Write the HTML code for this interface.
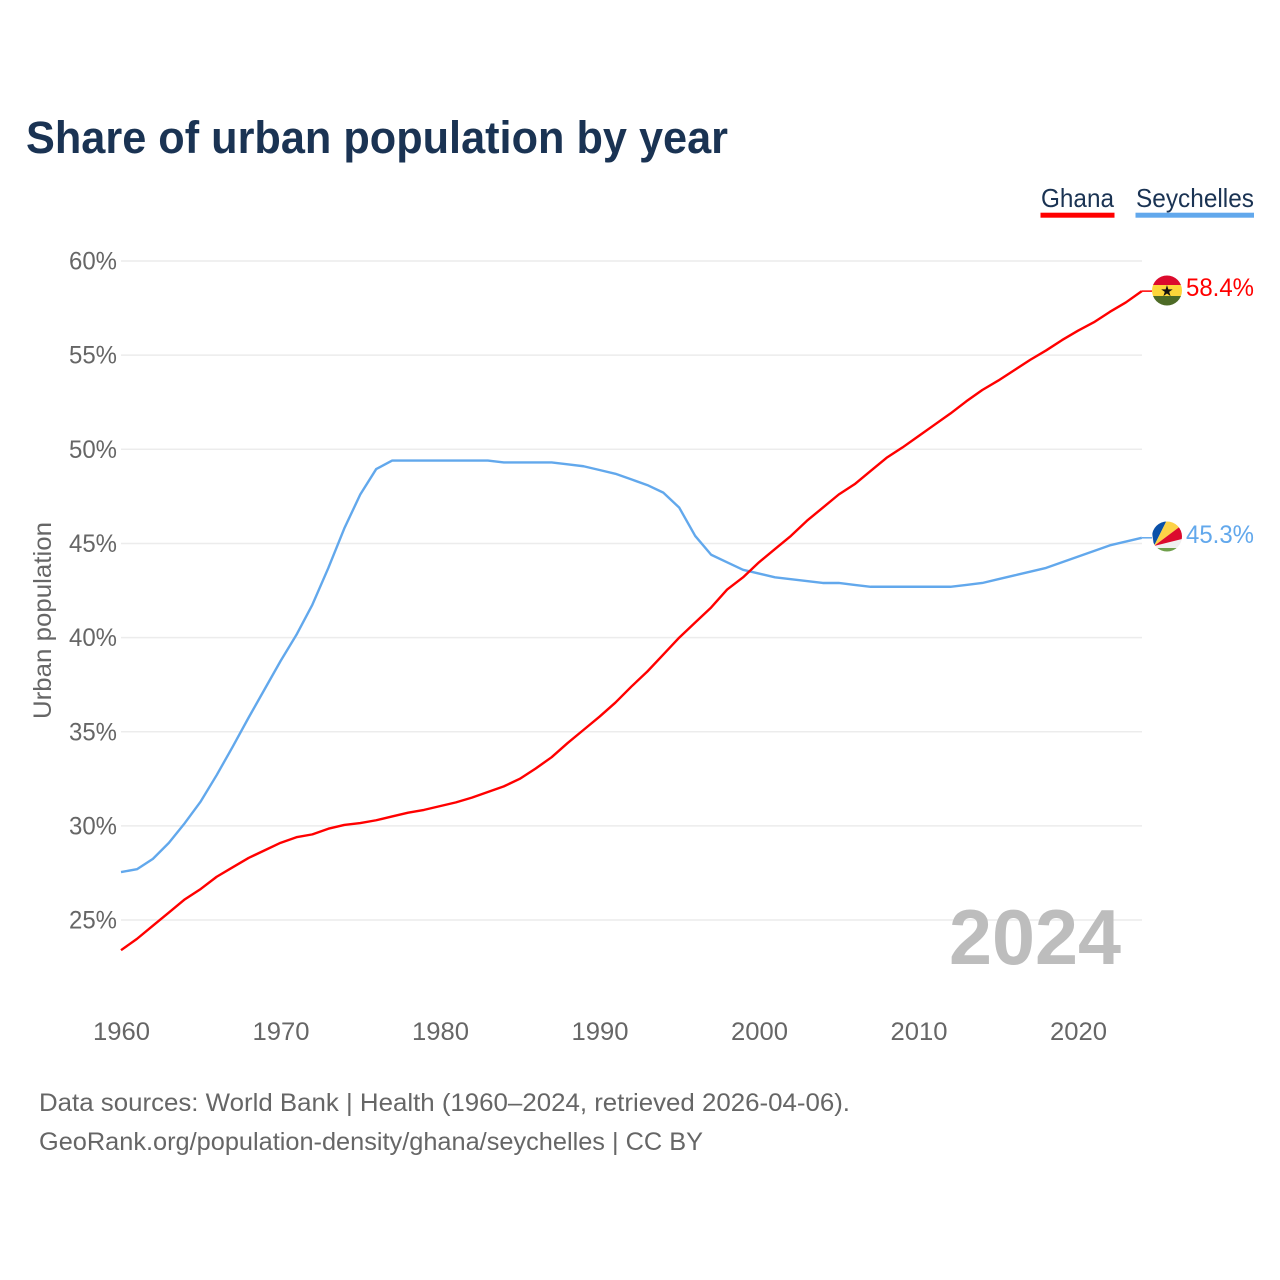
<!DOCTYPE html>
<html lang="en">
<head>
<meta charset="utf-8">
<title>Share of urban population by year</title>
<style>
html,body{margin:0;padding:0;background:#fff;}
svg{display:block;font-family:"Liberation Sans",sans-serif;}
</style>
</head>
<body>
<svg id="chart" width="1280" height="1280" viewBox="0 0 1280 1280" xmlns="http://www.w3.org/2000/svg">
  <defs>
    <clipPath id="clip-ghana"><circle cx="1167" cy="290.5" r="15"/></clipPath>
    <clipPath id="clip-sey"><circle cx="1167" cy="536.5" r="15"/></clipPath>
  </defs>
  <rect x="0" y="0" width="1280" height="1280" fill="#fff"/>
  <text x="26" y="153" font-size="45" font-weight="700" fill="#1a3353" textLength="702" lengthAdjust="spacingAndGlyphs">Share of urban population by year</text>

  <g>
    <g>
      <text x="1041" y="207" font-size="26" fill="#1a3353" textLength="73" lengthAdjust="spacingAndGlyphs">Ghana</text>
      <rect x="1040.5" y="212.7" width="74" height="5" fill="#ff0000"/>
    </g>
    <g>
      <text x="1136" y="207" font-size="26" fill="#1a3353" textLength="118" lengthAdjust="spacingAndGlyphs">Seychelles</text>
      <rect x="1135.5" y="212.7" width="118.5" height="5" fill="#62a8ec"/>
    </g>
  </g>

  <g id="grid"></g>
  <g id="yticks"></g>
  <g id="xticks"></g>
  <text x="0" y="0" transform="translate(51,620.5) rotate(-90)" text-anchor="middle" font-size="25" fill="#666" textLength="197" lengthAdjust="spacingAndGlyphs">Urban population</text>

  <text x="949" y="964" font-size="78" font-weight="700" fill="#bdbdbd" textLength="172" lengthAdjust="spacingAndGlyphs">2024</text>

  <g id="series"></g>

  <g clip-path="url(#clip-ghana)">
    <rect x="1150" y="274" width="34" height="11" fill="#dc0a2d"/>
    <rect x="1150" y="285" width="34" height="11" fill="#fcd63a"/>
    <rect x="1150" y="296" width="34" height="11" fill="#4d6b26"/>
    <text x="1167" y="296" text-anchor="middle" font-size="15" fill="#111" font-family="'DejaVu Sans',sans-serif">★</text>
  </g>
  <g clip-path="url(#clip-sey)">
    <rect x="1150" y="519" width="34" height="35" fill="#f0f0f0"/>
    <polygon points="1154,546 1150,518 1168,518" fill="#0a50a8"/>
    <polygon points="1154,546 1168,518 1186,518 1186,522" fill="#fdd247"/>
    <polygon points="1154,546 1186,522 1186,538" fill="#dc0a2d"/>
    <rect x="1150" y="548" width="34" height="6" fill="#6f9f4b"/>
  </g>
  <text id="end-ghana" x="1186" y="296" font-size="25" fill="#ff0000" textLength="68" lengthAdjust="spacingAndGlyphs"></text>
  <text id="end-sey" x="1186" y="543" font-size="25" fill="#62a8ec" textLength="68" lengthAdjust="spacingAndGlyphs"></text>

  <g>
    <text x="39" y="1111" font-size="25" fill="#666" textLength="811" lengthAdjust="spacingAndGlyphs">Data sources: World Bank | Health (1960–2024, retrieved 2026-04-06).</text>
    <text x="39" y="1150" font-size="25" fill="#666" textLength="664" lengthAdjust="spacingAndGlyphs">GeoRank.org/population-density/ghana/seychelles | CC BY</text>
  </g>
</svg>
<script>
const startYear = 1960;
const yTickValues = [25, 30, 35, 40, 45, 50, 55, 60];
const xTickYears = [1960, 1970, 1980, 1990, 2000, 2010, 2020];
const ghanaValues = [23.4,24.0,24.7,25.4,26.1,26.65,27.3,27.8,28.3,28.7,29.1,29.4,29.55,29.85,30.05,30.15,30.3,30.5,30.7,30.85,31.05,31.25,31.5,31.8,32.1,32.5,33.05,33.65,34.4,35.1,35.8,36.55,37.4,38.2,39.1,40.0,40.8,41.6,42.55,43.2,44.0,44.7,45.4,46.2,46.9,47.6,48.15,48.85,49.55,50.1,50.7,51.3,51.9,52.55,53.15,53.65,54.2,54.75,55.25,55.8,56.3,56.75,57.3,57.8,58.4];
const seychellesValues = [27.55,27.7,28.25,29.1,30.15,31.3,32.7,34.2,35.75,37.25,38.75,40.15,41.75,43.7,45.8,47.6,48.95,49.4,49.4,49.4,49.4,49.4,49.4,49.4,49.3,49.3,49.3,49.3,49.2,49.1,48.9,48.7,48.4,48.1,47.7,46.9,45.4,44.4,44.0,43.6,43.4,43.2,43.1,43.0,42.9,42.9,42.8,42.7,42.7,42.7,42.7,42.7,42.7,42.8,42.9,43.1,43.3,43.5,43.7,44.0,44.3,44.6,44.9,45.1,45.3];

const NS = 'http://www.w3.org/2000/svg';
function xScale(year) { return 121 + (year - 1960) * 15.95; }
function yScale(v) { return 261 + (60 - v) * 18.83; }
function make(tag, attrs, parent) {
  const el = document.createElementNS(NS, tag);
  Object.keys(attrs).forEach(function (k) { el.setAttribute(k, attrs[k]); });
  parent.appendChild(el);
  return el;
}
const gridGroup = document.getElementById('grid');
const yGroup = document.getElementById('yticks');
const xGroup = document.getElementById('xticks');
const seriesGroup = document.getElementById('series');

yTickValues.forEach(function (v) {
  const line = make('line', { x1: 121, x2: 1142, y1: yScale(v), y2: yScale(v), stroke: '#ececec', 'stroke-width': 1.5 }, gridGroup);
  
  
  const label = make('text', { x: 69, y: yScale(v) + 8.5, 'font-size': 25, fill: '#666', textLength: 48, lengthAdjust: 'spacingAndGlyphs' }, yGroup);
  label.textContent = v + '%';
  
  
});
xTickYears.forEach(function (yr) {
  const label = make('text', { x: xScale(yr) - 28, y: 1040, 'font-size': 25, fill: '#666', textLength: 57, lengthAdjust: 'spacingAndGlyphs' }, xGroup);
  label.textContent = String(yr);
  
  
});
function pathFor(values) {
  return values.map(function (v, i) {
    return (i ? 'L' : 'M') + xScale(startYear + i).toFixed(2) + ' ' + yScale(v).toFixed(2);
  }).join(' ');
}
const seyLine = make('path', { d: pathFor(seychellesValues), fill: 'none', stroke: '#62a8ec', 'stroke-width': 2.4, 'stroke-linejoin': 'round' }, seriesGroup);


const ghanaLine = make('path', { d: pathFor(ghanaValues), fill: 'none', stroke: '#ff0000', 'stroke-width': 2.4, 'stroke-linejoin': 'round' }, seriesGroup);



function stub(values, name, color) {
  const last = values[values.length - 1];
  const s = make('line', { x1: xScale(startYear + values.length - 1), x2: 1152, y1: yScale(last), y2: yScale(last), stroke: color, 'stroke-width': 1.5 }, seriesGroup);
  
  
}
stub(ghanaValues, 'connector-ghana', '#ff0000');
stub(seychellesValues, 'connector-seychelles', '#62a8ec');

document.getElementById('end-ghana').textContent = ghanaValues[ghanaValues.length - 1].toFixed(1) + '%';
document.getElementById('end-sey').textContent = seychellesValues[seychellesValues.length - 1].toFixed(1) + '%';
</script>
</body>
</html>
